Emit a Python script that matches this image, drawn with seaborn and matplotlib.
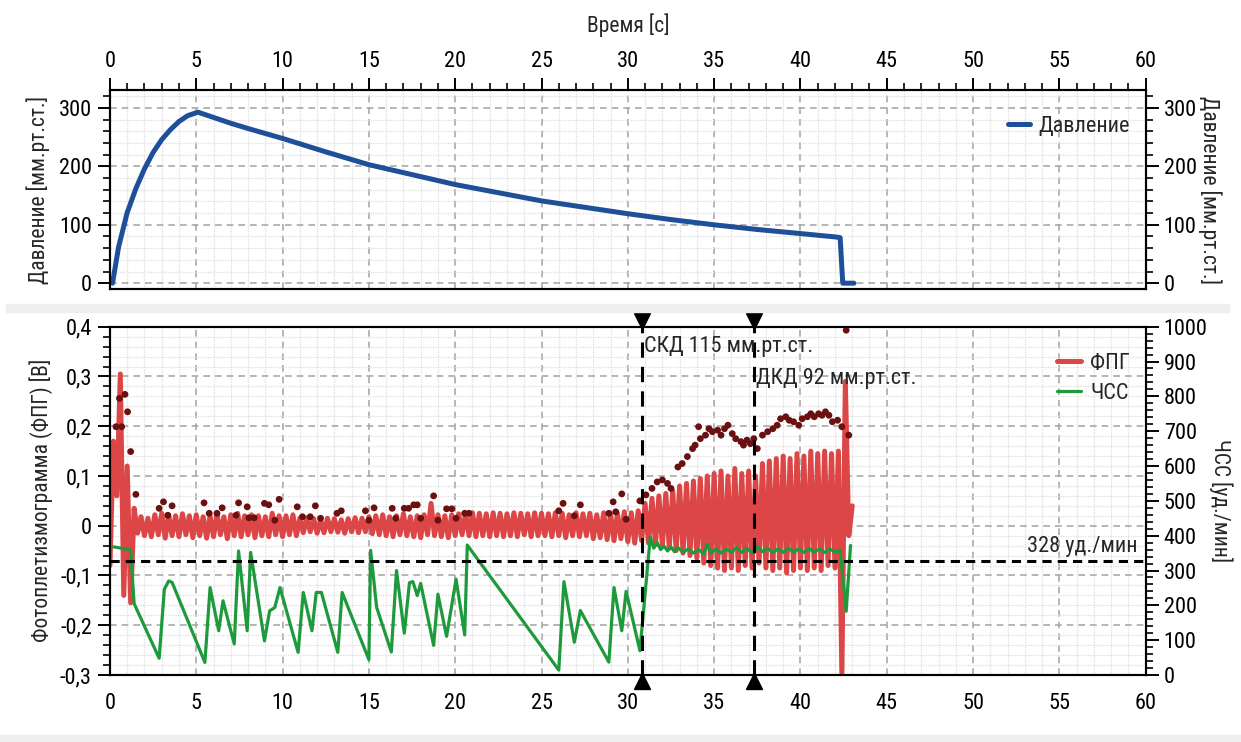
import numpy as np
import seaborn as sns
import matplotlib.pyplot as plt
import matplotlib.transforms as mtransforms
from matplotlib import font_manager
from matplotlib.patches import Rectangle
from matplotlib.ticker import MultipleLocator, FuncFormatter

# cuff pressure, mmHg
pressure_t = [0.15, 0.5, 1.0, 1.5, 2.0, 2.5, 3.0, 3.5, 4.0, 4.5, 5.1, 6.0, 7.0, 8.0, 10.0,
              12.5, 15.0, 17.5, 20.0, 22.5, 25.0, 27.5, 30.0, 32.5, 35.0, 37.5, 40.0,
              42.1, 42.3, 42.45, 43.1]
pressure_v = [0, 62, 121, 162, 196, 224, 246, 263, 277, 287, 293, 284, 274, 265, 248,
              225, 203, 186, 169, 155, 141, 130, 119, 109, 100, 92, 85,
              79, 78, 0, 0]

# photoplethysmogram, uniformly sampled, values in mV
ppg_t0 = 0.0
ppg_dt = 0.2
ppg_mv = [
    -80, 170, 60, 305, -140, 120, -155, 35, -15, 18, -20, 15, -22, 22, -18, 25, -25, 22, -20, 20, -22, 24, -18, 20, -24,
    22, -20, 18, -25, 20, -22, 24, -18, 18, -26, 22, -20, 25, -22, 20, -18, 22, -24, 20, -20, 18, -22, 25, -18, 20,
    -22, 20, -18, 22, -20, 15, -14, 16, -12, 14, -15, 12, -14, 15, -12, 14, -13, 12, -15, 14, -12, 16, -14, 15, -12,
    18, -16, 20, -18, 22, -20, 18, -22, 20, -18, 24, -20, 18, -22, 20, -24, 22, -18, 45, -20, 22, -22, 20, -24, 22,
    -20, 24, -18, 25, -20, 26, -22, 25, -20, 24, -22, 26, -20, 25, -22, 24, -20, 26, -22, 25, -18, 24, -22, 26, -20,
    25, -20, 24, -22, 26, -20, 25, -24, 22, -20, 26, -22, 24, -20, 25, -26, 22, -24, 26, -28, 24, -30, 25, -26, 28,
    -32, 26, -35, 30, -30, 45, -35, 55, -38, 60, -40, 65, -45, 70, -50, 80, -55, 85, -60, 90, -65, 95, -75, 100, -80,
    105, -85, 110, -90, 100, -85, 115, -90, 105, -80, 110, -85, 100, -75, 125, -85, 130, -90, 135, -85, 140, -95, 135, -90, 145,
    -85, 140, -90, 150, -85, 145, -90, 150, -80, 145, -85, 150, -300, 290, -20, 40,
]

# detected pulse peaks, V
peak_t = [0.35, 0.55, 0.68, 0.87, 1.02, 1.2, 1.5, 2.85, 3.1, 3.35,
          3.6, 5.45, 5.75, 6.2, 6.5, 7.3, 7.45, 7.95, 8.05, 8.35,
          8.95, 9.2, 9.55, 9.8, 10.85, 11.15, 11.6, 11.9, 12.2, 13.15,
          13.4, 14.8, 15.0, 15.3, 16.35, 16.55, 17.05, 17.3, 17.6, 17.8,
          18.0, 18.75, 19.0, 19.5, 19.8, 20.05, 20.55, 20.8, 26.0, 26.25,
          26.9, 27.25, 28.9, 29.15, 29.3, 29.65, 29.9, 30.7, 31.05, 31.4,
          31.7, 32.0, 32.3, 32.5, 32.9, 33.15, 33.45, 33.75, 33.9, 34.1,
          34.2, 34.5, 34.7, 34.9, 35.2, 35.4, 35.6, 35.8, 36.05, 36.25,
          36.55, 36.7, 36.9, 37.1, 37.3, 37.5, 37.8, 38.1, 38.4, 38.65,
          38.85, 39.15, 39.35, 39.6, 39.9, 40.1, 40.4, 40.6, 40.8, 41.05,
          41.25, 41.45, 41.65, 41.85, 42.15, 42.4, 42.65, 42.8]
peak_v = [0.199, 0.256, 0.199, 0.264, 0.229, 0.149, 0.063, 0.035, 0.048, 0.021,
          0.040, 0.046, 0.025, 0.025, 0.036, 0.021, 0.046, 0.038, 0.016, 0.016,
          0.045, 0.042, 0.011, 0.053, 0.038, 0.018, 0.018, 0.040, 0.015, 0.025,
          0.030, 0.030, 0.011, 0.036, 0.035, 0.015, 0.035, 0.035, 0.042, 0.042,
          0.015, 0.060, 0.011, 0.034, 0.034, 0.015, 0.025, 0.025, 0.030, 0.045,
          0.020, 0.042, 0.025, 0.048, 0.028, 0.064, 0.013, 0.050, 0.062, 0.075,
          0.088, 0.092, 0.085, 0.075, 0.118, 0.125, 0.139, 0.155, 0.162, 0.199,
          0.175, 0.182, 0.195, 0.189, 0.192, 0.182, 0.195, 0.202, 0.185, 0.175,
          0.169, 0.162, 0.172, 0.165, 0.175, 0.155, 0.182, 0.189, 0.195, 0.202,
          0.215, 0.219, 0.212, 0.209, 0.202, 0.215, 0.219, 0.225, 0.219, 0.225,
          0.222, 0.229, 0.222, 0.209, 0.212, 0.199, 0.393, 0.182]

# heart rate, bpm
hr_t = [0.2, 0.9, 1.2, 1.4, 2.85, 3.15, 3.4, 3.6, 5.5, 5.8,
        6.3, 6.55, 7.2, 7.45, 7.95, 8.15, 8.95, 9.25, 9.55, 9.85,
        10.9, 11.2, 11.7, 11.95, 12.25, 13.2, 13.45, 15.0, 15.1, 15.45,
        16.3, 16.6, 17.05, 17.35, 17.55, 17.8, 18.0, 18.75, 19.0, 19.5,
        20.05, 20.55, 20.7, 26.0, 26.3, 26.9, 27.25, 28.9, 29.2, 29.65,
        29.9, 30.7, 31.3, 31.5, 31.7, 31.9, 32.1, 32.3, 32.5, 32.7,
        32.9, 33.2, 33.5, 33.8, 34.1, 34.4, 34.6, 34.8, 35.1, 35.4,
        35.7, 36.0, 36.3, 36.6, 36.9, 37.2, 37.5, 37.8, 38.1, 38.4,
        38.7, 39.0, 39.3, 39.6, 39.9, 40.2, 40.5, 40.8, 41.1, 41.4,
        41.7, 42.0, 42.3, 42.65, 42.9]
hr_bpm = [368, 362, 358, 205, 48, 246, 270, 266, 36, 251,
          127, 213, 89, 356, 127, 352, 98, 184, 194, 251,
          65, 237, 127, 237, 237, 65, 237, 44, 358, 194,
          66, 300, 120, 265, 268, 228, 263, 85, 232, 111,
          275, 115, 373, 14, 268, 94, 185, 37, 251, 127,
          240, 70, 396, 364, 380, 360, 370, 356, 368, 354,
          366, 352, 362, 350, 360, 348, 376, 350, 362, 350,
          362, 352, 366, 352, 364, 350, 368, 354, 364, 352,
          362, 352, 364, 353, 362, 352, 363, 353, 362, 352,
          362, 353, 358, 183, 372]

skd_t = 30.8
dkd_t = 37.3
skd_label = "СКД 115 мм.рт.ст."
dkd_label = "ДКД 92 мм.рт.ст."
hr_threshold = 328

ppg_t = ppg_t0 + ppg_dt * np.arange(len(ppg_mv))
ppg_v = np.array(ppg_mv) / 1000.0

sns.set_theme(style="white")

# pick a narrow face if one is installed, else fall back
installed = {f.name for f in font_manager.fontManager.ttflist}
narrow = [n for n in ('Liberation Sans Narrow', 'Roboto Condensed', 'Open Sans Condensed',
                      'DejaVu Sans Condensed') if n in installed]
if narrow:
    plt.rcParams['font.family'] = [narrow[0], 'DejaVu Sans']
    FS = 16
else:
    plt.rcParams['font.family'] = ['DejaVu Sans']
    plt.rcParams['font.stretch'] = 'condensed'
    FS = 13.5
LFS = FS - 0.5
plt.rcParams['font.size'] = FS

BLUE = '#1f4f99'
RED = '#dc4646'
GREEN = '#1e9a3c'
DOT = '#6a1010'


def style_axes(ax):
    ax.grid(which='major', color='#a9a9a9', linestyle=(0, (4, 3)), linewidth=1.2)
    ax.grid(which='minor', color='#dedede', linestyle=(0, (1, 1)), linewidth=0.9)
    ax.set_axisbelow(True)
    for sp in ax.spines.values():
        sp.set_color('black')
        sp.set_linewidth(1.5)
    ax.tick_params(which='major', direction='out', length=9, width=1.4, colors='black',
                   labelsize=FS, pad=4)
    ax.tick_params(which='minor', direction='out', length=5, width=1.2, colors='black')


def style_twin(ax):
    ax.tick_params(which='major', direction='out', length=9, width=1.4, colors='black',
                   labelsize=FS, pad=4)
    ax.tick_params(which='minor', direction='out', length=5, width=1.2, colors='black')
    ax.grid(False)
    for sp in ax.spines.values():
        sp.set_color('black')
        sp.set_linewidth(1.5)


fig = plt.figure(figsize=(12.41, 7.42), dpi=100)
fig.patches.append(Rectangle((0.005, 0.579), 0.985, 0.011, transform=fig.transFigure,
                             color='#efefef', zorder=0))
fig.patches.append(Rectangle((0.0, 0.0), 1.0, 0.01, transform=fig.transFigure,
                             color='#efefef', zorder=0))

# ---- pressure panel ----
ax_p = fig.add_axes([0.0886, 0.6105, 0.8346, 0.2682])
sns.lineplot(x=pressure_t, y=pressure_v, ax=ax_p, color=BLUE, linewidth=3.6,
             estimator=None, sort=False, label='Давление')
ax_p.set_xlim(0, 60)
ax_p.set_ylim(-10, 331)
ax_p.xaxis.set_major_locator(MultipleLocator(5))
ax_p.xaxis.set_minor_locator(MultipleLocator(1))
ax_p.yaxis.set_major_locator(MultipleLocator(100))
ax_p.yaxis.set_minor_locator(MultipleLocator(20))
ax_p.xaxis.tick_top()
ax_p.xaxis.set_label_position('top')
ax_p.set_xlabel('Время [с]', fontsize=LFS, labelpad=14)
ax_p.set_ylabel('Давление [мм.рт.ст.]', fontsize=LFS, labelpad=6)
style_axes(ax_p)
ax_p.legend(loc='upper right', bbox_to_anchor=(1.0, 0.95), frameon=False, fontsize=FS,
            handlelength=1.0, handletextpad=0.4, borderaxespad=0.3)

ax_pr = ax_p.twinx()
ax_pr.set_ylim(ax_p.get_ylim())
ax_pr.yaxis.set_major_locator(MultipleLocator(100))
ax_pr.yaxis.set_minor_locator(MultipleLocator(20))
ax_pr.set_ylabel('Давление [мм.рт.ст.]', fontsize=LFS, rotation=270, labelpad=18)
style_twin(ax_pr)

# ---- PPG / heart rate panel ----
ax_f = fig.add_axes([0.0886, 0.0903, 0.8346, 0.4694])
sns.lineplot(x=ppg_t, y=ppg_v, ax=ax_f, color=RED, linewidth=3.6,
             estimator=None, sort=False, label='ФПГ')
sns.scatterplot(x=peak_t, y=peak_v, ax=ax_f, color=DOT, s=24, edgecolor='none',
                zorder=3, legend=False)
ax_f.set_xlim(0, 60)
ax_f.set_ylim(-0.3, 0.4)
ax_f.xaxis.set_major_locator(MultipleLocator(5))
ax_f.xaxis.set_minor_locator(MultipleLocator(1))
ax_f.yaxis.set_major_locator(MultipleLocator(0.1))
ax_f.yaxis.set_minor_locator(MultipleLocator(0.02))
ax_f.yaxis.set_major_formatter(FuncFormatter(
    lambda v, _: '0' if abs(v) < 1e-9 else f'{v:.1f}'.replace('.', ',')))
ax_f.set_ylabel('Фотоплетизмограмма (ФПГ) [В]', fontsize=LFS, labelpad=5)
ax_f.set_xlabel('')
style_axes(ax_f)
if ax_f.get_legend() is not None:
    ax_f.get_legend().remove()

ax_h = ax_f.twinx()
sns.lineplot(x=hr_t, y=hr_bpm, ax=ax_h, color=GREEN, linewidth=2.3,
             estimator=None, sort=False, label='ЧСС')
ax_h.set_ylim(0, 1000)
ax_h.yaxis.set_major_locator(MultipleLocator(100))
ax_h.yaxis.set_minor_locator(MultipleLocator(20))
ax_h.set_ylabel('ЧСС [уд./мин]', fontsize=LFS, rotation=270, labelpad=18)
style_twin(ax_h)

ax_h.axhline(hr_threshold, color='black', linestyle=(0, (3, 2)), linewidth=2.2, zorder=4)
ax_h.text(59.5, hr_threshold + 12, f'{hr_threshold} уд./мин', ha='right', va='bottom',
          fontsize=FS, zorder=5)

trans = mtransforms.blended_transform_factory(ax_h.transData, ax_h.transAxes)
for t in (skd_t, dkd_t):
    ax_h.axvline(t, color='black', linestyle=(0, (5, 3)), linewidth=2.2, zorder=5)
    ax_h.plot([t], [1.016], marker='v', markersize=11, color='black', transform=trans,
              clip_on=False, zorder=6)
    ax_h.plot([t], [-0.018], marker='^', markersize=11, color='black', transform=trans,
              clip_on=False, zorder=6)
ax_h.text(skd_t + 0.15, 943, skd_label, ha='left', va='center', fontsize=FS, zorder=6)
ax_h.text(dkd_t + 0.15, 851, dkd_label, ha='left', va='center', fontsize=FS, zorder=6)

h1, l1 = ax_f.get_legend_handles_labels()
h2, l2 = ax_h.get_legend_handles_labels()
ax_h.legend(h1 + h2, l1 + l2, loc='upper right', bbox_to_anchor=(1.0, 0.97), frameon=False,
            fontsize=FS, handlelength=1.1, handletextpad=0.4, labelspacing=0.4,
            borderaxespad=0.3)

fig.savefig('out.png', dpi=100, facecolor='white')
